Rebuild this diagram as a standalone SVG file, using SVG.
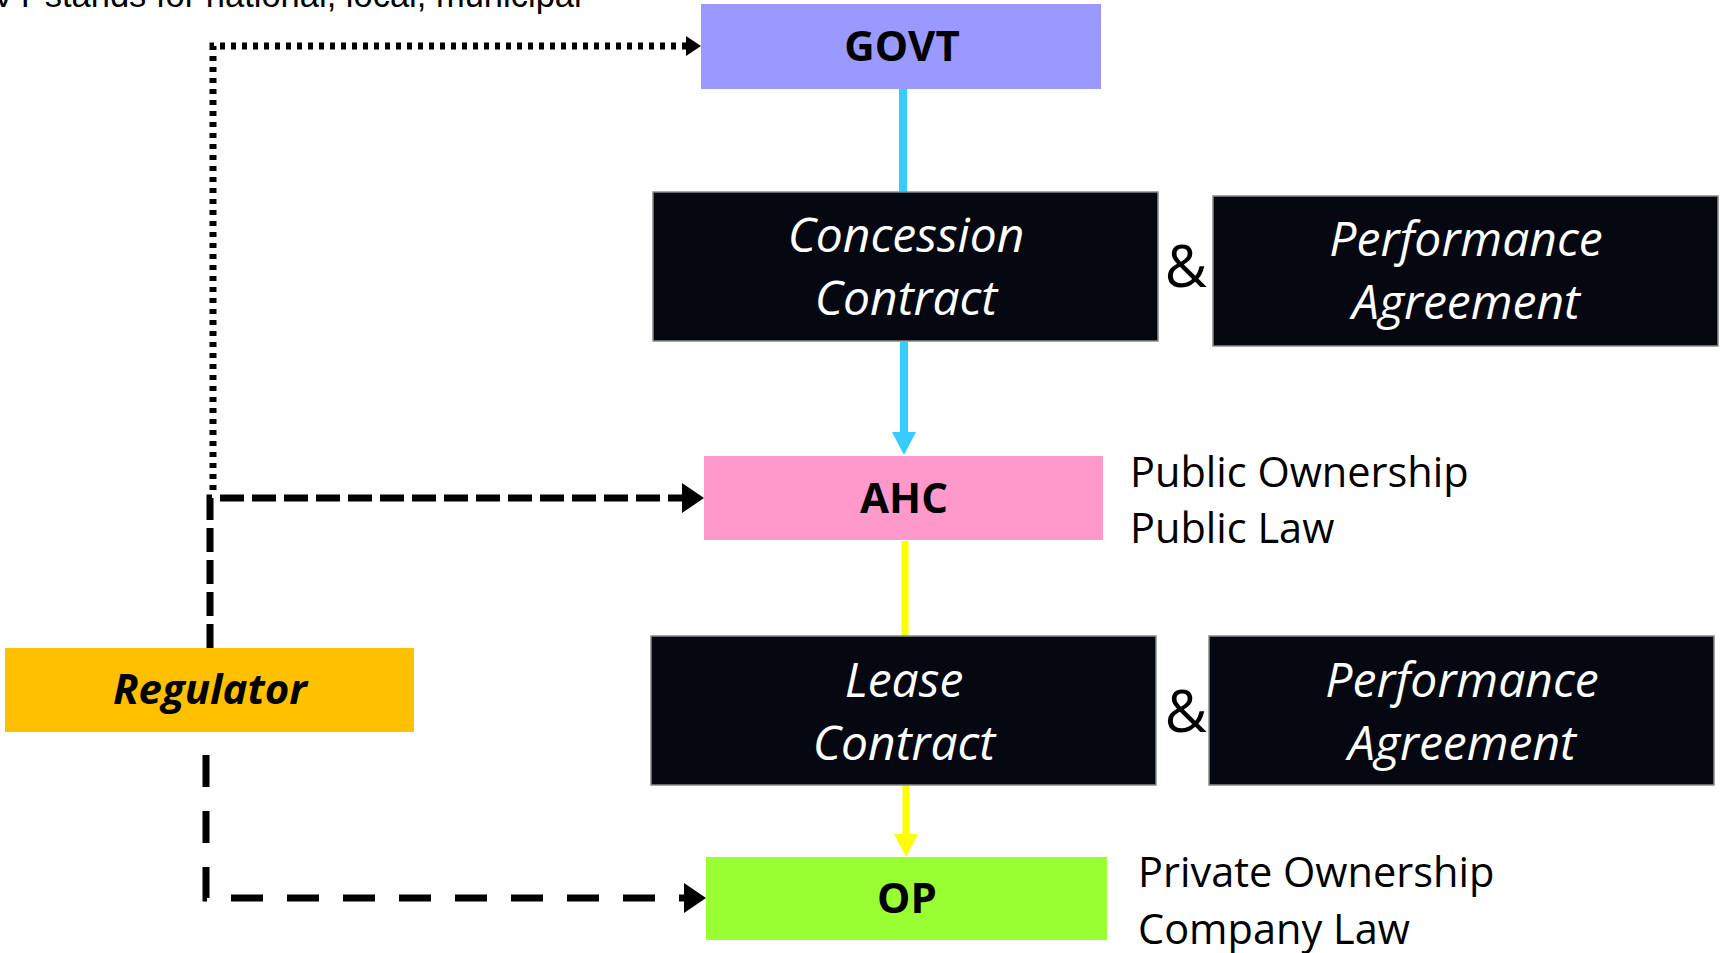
<svg xmlns="http://www.w3.org/2000/svg" width="1720" height="953" viewBox="0 0 1720 953">
  <defs>
    <style>
      .box-label { font-family: "Open Sans", "Noto Sans", sans-serif; font-weight: 700; font-size: 42px; fill: #000; text-anchor: middle; }
      .contract { font-family: "Open Sans", "Noto Sans", sans-serif; font-style: italic; font-size: 48px; fill: #fff; text-anchor: middle; }
      .amp { font-family: "Open Sans", "Noto Sans", sans-serif; font-size: 58px; fill: #000; text-anchor: middle; }
      .note { font-family: "Open Sans", "Noto Sans", sans-serif; font-size: 41.5px; fill: #000; }
      .dark { fill: #050810; stroke: #8a8a8a; stroke-width: 1.5; }
      .link { fill: none; stroke: #000; stroke-width: 7; }
    </style>
    <marker id="head-black-small" markerUnits="userSpaceOnUse" markerWidth="16" markerHeight="22" refX="0" refY="10" orient="auto" overflow="visible">
      <path d="M0,0 L15,10 L0,20 Z" fill="#000"/>
    </marker>
    <marker id="head-black" markerUnits="userSpaceOnUse" markerWidth="24" markerHeight="32" refX="0" refY="15" orient="auto" overflow="visible">
      <path d="M0,0 L22,15 L0,30 Z" fill="#000"/>
    </marker>
    <marker id="head-cyan" markerUnits="userSpaceOnUse" markerWidth="26" markerHeight="26" refX="0" refY="12" orient="auto" overflow="visible">
      <path d="M0,0 L23,12 L0,24 Z" fill="#36CCFF"/>
    </marker>
    <marker id="head-yellow" markerUnits="userSpaceOnUse" markerWidth="26" markerHeight="26" refX="0" refY="12" orient="auto" overflow="visible">
      <path d="M0,0 L23,12 L0,24 Z" fill="#FFFF00"/>
    </marker>
  </defs>

  <rect width="1720" height="953" fill="#fff"/>

  <!-- footnote running off the top edge -->
  <text x="-62" y="7" font-family="'Liberation Sans', Arial, sans-serif" font-size="34.5" fill="#000">GOVT stands for national, local, municipal</text>

  <!-- connectors -->
  <g id="connectors">
    <line x1="903" y1="89" x2="903" y2="192" stroke="#36CCFF" stroke-width="8"/>
    <line x1="904" y1="342" x2="904" y2="432" stroke="#36CCFF" stroke-width="8" marker-end="url(#head-cyan)"/>
    <line x1="905" y1="541" x2="905" y2="636" stroke="#FFFF00" stroke-width="7"/>
    <line x1="906" y1="785" x2="906" y2="834" stroke="#FFFF00" stroke-width="7" marker-end="url(#head-yellow)"/>
    <path class="link" d="M213,490 V46 H686" stroke-width="5" stroke-dasharray="5 6" marker-end="url(#head-black-small)"/>
    <path class="link" d="M210,648 V498 H682" stroke-dasharray="24 8" marker-end="url(#head-black)"/>
    <path class="link" d="M206,755 V898 H684" stroke-dasharray="32 24" marker-end="url(#head-black)"/>
  </g>

  <g id="govt">
    <rect x="701" y="4" width="400" height="85" fill="#9999FF"/>
    <text class="box-label" x="902" y="61">GOVT</text>
  </g>

  <g id="concession-contract">
    <rect class="dark" x="653" y="192" width="505" height="149"/>
    <text class="contract" x="906" y="252">Concession</text>
    <text class="contract" x="906" y="315">Contract</text>
  </g>

  <g id="amp-upper">
    <text class="amp" x="1186" y="287">&amp;</text>
  </g>

  <g id="performance-agreement-upper">
    <rect class="dark" x="1213" y="196" width="505" height="150"/>
    <text class="contract" x="1466" y="256">Performance</text>
    <text class="contract" x="1466" y="319">Agreement</text>
  </g>

  <g id="ahc">
    <rect x="704" y="456" width="399" height="84" fill="#FF99CC"/>
    <text class="box-label" x="904" y="513">AHC</text>
    <text class="note" x="1130" y="487">Public Ownership</text>
    <text class="note" x="1130" y="543">Public Law</text>
  </g>

  <g id="lease-contract">
    <rect class="dark" x="651" y="636" width="505" height="149"/>
    <text class="contract" x="904" y="697">Lease</text>
    <text class="contract" x="904" y="760">Contract</text>
  </g>

  <g id="amp-lower">
    <text class="amp" x="1186" y="732">&amp;</text>
  </g>

  <g id="performance-agreement-lower">
    <rect class="dark" x="1209" y="636" width="505" height="149"/>
    <text class="contract" x="1462" y="697">Performance</text>
    <text class="contract" x="1462" y="760">Agreement</text>
  </g>

  <g id="op">
    <rect x="706" y="857" width="401" height="83" fill="#99FF33"/>
    <text class="box-label" x="907" y="913">OP</text>
    <text class="note" x="1138" y="887">Private Ownership</text>
    <text class="note" x="1138" y="944">Company Law</text>
  </g>

  <g id="regulator">
    <rect x="5" y="648" width="409" height="84" fill="#FFC000"/>
    <text class="box-label" x="210" y="704" font-style="italic">Regulator</text>
  </g>
</svg>
